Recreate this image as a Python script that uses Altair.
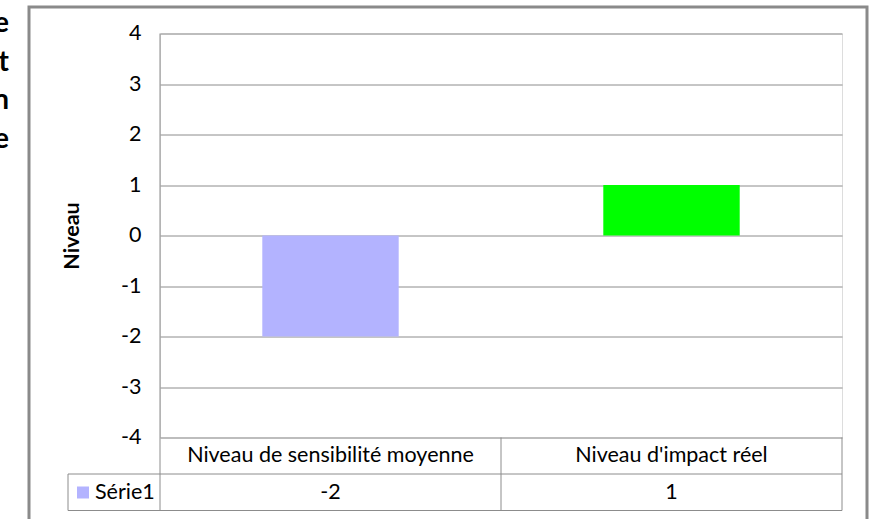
import altair as alt
import pandas as pd

categories = ["Niveau de sensibilité moyenne", "Niveau d'impact réel"]
values = [-2, 1]
bar_colors = ["#B3B3FF", "#00FF00"]
series_name = "Série1"
y_ticks = [-4, -3, -2, -1, 0, 1, 2, 3, 4]
y_title = "Niveau"
cut_text = "e\nt\nn\ne"

df = pd.DataFrame({"cat": categories, "val": values, "lab": [str(v) for v in values]})

FONT = "Lato"
FS = 21.5
GRID = "#8c8c8c"
W, H = 682, 404

xscale = alt.Scale(domain=categories, paddingInner=0, paddingOuter=0)
x_enc = alt.X("cat:N", scale=xscale, axis=None, sort=categories)

base = alt.Chart(df)

bars = base.mark_bar(width=alt.RelativeBandSize(0.4)).encode(
    x=x_enc,
    y=alt.Y("val:Q",
            scale=alt.Scale(domain=[-4, 4], nice=False, zero=False),
            axis=alt.Axis(values=y_ticks, grid=True, gridColor=GRID, gridWidth=1,
                          domain=False, ticks=False, labelFontSize=FS, labelFont=FONT,
                          labelColor="#000000", labelPadding=19,
                          labelExpr="'' + datum.value",
                          title=y_title, titleFont=FONT, titleFontSize=FS,
                          titleFontWeight="bold", titleColor="#000000",
                          titleAngle=270, titleX=-88, titleY=202,
                          titleAlign="center", titleBaseline="middle")),
    color=alt.Color("cat:N", scale=alt.Scale(domain=categories, range=bar_colors), legend=None),
)

header = base.mark_text(font=FONT, fontSize=FS, color="#000000", baseline="middle").encode(
    x=x_enc, y=alt.value(422), text="cat:N")
vals = base.mark_text(font=FONT, fontSize=FS, color="#000000", baseline="middle").encode(
    x=x_enc, y=alt.value(459), text="lab:N")

one = alt.Data(values=[{}])

def rule(x1, x2, y1, y2):
    return alt.Chart(one).mark_rule(color=GRID, strokeWidth=1).encode(
        x=alt.value(x1), x2=alt.value(x2), y=alt.value(y1), y2=alt.value(y2))

lines = [
    rule(0, 0, 0, 477),
    rule(341, 341, 404, 477),
    rule(682, 682, 404, 477),
    rule(-92, -92, 440.5, 477),
    rule(-92, 682, 440.5, 440.5),
    rule(-92, 682, 477, 477),
]

legend_sq = alt.Chart(one).mark_rect(color=bar_colors[0]).encode(
    x=alt.value(-83), x2=alt.value(-71), y=alt.value(453), y2=alt.value(465))
legend_txt = alt.Chart(one).mark_text(text=series_name, font=FONT, fontSize=FS, align="left",
                                      baseline="middle", color="#000000").encode(
    x=alt.value(-65), y=alt.value(459))

cut = alt.Chart(one).mark_text(text=cut_text, lineBreak="\n", lineHeight=38.5, font=FONT,
                               fontSize=28, fontWeight="bold", align="right",
                               baseline="alphabetic", color="#000000").encode(
    x=alt.value(-151), y=alt.value(-1.5))

border = alt.Chart(one).mark_rect(fill=None, stroke="#8a8a8a", strokeWidth=3).encode(
    x=alt.value(-131), x2=alt.value(707), y=alt.value(-26.5), y2=alt.value(520))

chart = alt.layer(border, bars, *lines, header, vals, legend_sq, legend_txt, cut).properties(
    width=W, height=H,
    autosize=alt.AutoSizeParams(type="none"),
    padding={"left": 160, "top": 33.5, "right": 29, "bottom": 81.5},
).configure_view(stroke=None).configure(background="#ffffff")

chart.save("out.html", embed_options={"renderer": "svg", "actions": False})
